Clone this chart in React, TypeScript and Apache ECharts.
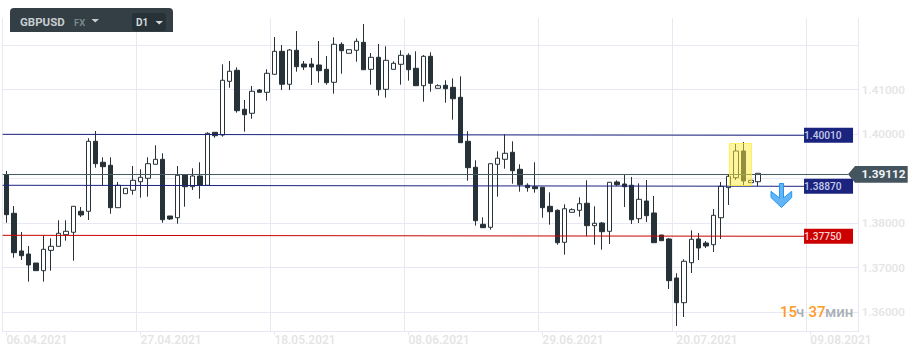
import React, { useEffect, useRef } from "react";
import * as echarts from "echarts";

const symbolName = "GBPUSD";
const dateTicks = ["06.04.2021", "27.04.2021", "18.05.2021", "08.06.2021", "29.06.2021", "20.07.2021", "09.08.2021"];
const priceTicks = ["1.41000", "1.40000", "1.38000", "1.37000", "1.36000"];
const ticksEvery = 18;
const categoryCount = 115;
const priceMin = 1.35573;
const priceMax = 1.42606;

const opens = [
  1.39089, 1.38222, 1.37376, 1.37308, 1.37106, 1.36934, 1.37391, 1.37481, 1.37742, 1.37796, 1.38267, 1.38267,
  1.39838, 1.39367, 1.39300, 1.38348, 1.38662, 1.38738, 1.38931, 1.39008, 1.39322, 1.39434, 1.38161, 1.38123,
  1.39082, 1.38819, 1.39059, 1.38851, 1.40040, 1.39980, 1.41185, 1.41432, 1.40557, 1.40467, 1.40990, 1.40938,
  1.41342, 1.41858, 1.41118, 1.41881, 1.41573, 1.41573, 1.41551, 1.41454, 1.41163, 1.42016, 1.41814, 1.41881,
  1.42060, 1.41454, 1.41724, 1.41005, 1.41454, 1.41567, 1.41769, 1.41477, 1.41086, 1.41746, 1.41028, 1.41095,
  1.41050, 1.40826, 1.39838, 1.39255, 1.37975, 1.37908, 1.39322, 1.39434, 1.39591, 1.39210, 1.38851, 1.38819,
  1.38806, 1.38379, 1.38289, 1.37571, 1.38244, 1.38289, 1.38447, 1.37944, 1.38004, 1.37818, 1.38925, 1.38880,
  1.38851, 1.38101, 1.38498, 1.38229, 1.37735, 1.37645, 1.36770, 1.36215, 1.37113, 1.37645, 1.37555, 1.37517,
  1.38123, 1.38797, 1.39021, 1.39621, 1.38909, 1.38931,
];
const closes = [
  1.38191, 1.37338, 1.37270, 1.37062, 1.36934, 1.37414, 1.37481, 1.37773, 1.37818, 1.38379, 1.38184, 1.39838,
  1.39335, 1.39268, 1.38348, 1.38851, 1.38783, 1.38963, 1.39030, 1.39335, 1.39434, 1.38078, 1.38094, 1.39075,
  1.38819, 1.39059, 1.38851, 1.40018, 1.39964, 1.41208, 1.41410, 1.40525, 1.40435, 1.40961, 1.40938, 1.41365,
  1.41858, 1.41118, 1.41888, 1.41513, 1.41506, 1.41506, 1.41423, 1.41154, 1.42016, 1.41872, 1.41894, 1.42083,
  1.41445, 1.41724, 1.40997, 1.41656, 1.41589, 1.41769, 1.41445, 1.41086, 1.41746, 1.41140, 1.41086, 1.41019,
  1.40794, 1.39807, 1.39246, 1.38056, 1.37899, 1.39335, 1.39457, 1.39569, 1.39178, 1.38864, 1.38797, 1.38774,
  1.38348, 1.38258, 1.37562, 1.38325, 1.38303, 1.38438, 1.37944, 1.37998, 1.37809, 1.38918, 1.38864, 1.38819,
  1.38078, 1.38536, 1.38168, 1.37562, 1.37607, 1.36709, 1.36215, 1.37145, 1.37638, 1.37443, 1.37488, 1.38177,
  1.38828, 1.39053, 1.39621, 1.38947, 1.38963, 1.39120,
];
const lows = [
  1.38011, 1.37225, 1.37174, 1.36687, 1.36934, 1.36687, 1.36934, 1.37481, 1.37607, 1.37158, 1.38139, 1.38072,
  1.39246, 1.38851, 1.38213, 1.38348, 1.38662, 1.38640, 1.38572, 1.38595, 1.39322, 1.38011, 1.38072, 1.37989,
  1.38370, 1.38745, 1.38550, 1.38851, 1.39919, 1.39942, 1.41041, 1.40480, 1.40054, 1.40346, 1.40938, 1.40750,
  1.41342, 1.40990, 1.40990, 1.41401, 1.41439, 1.41102, 1.41154, 1.41109, 1.40907, 1.41356, 1.41814, 1.41625,
  1.41445, 1.41109, 1.40862, 1.40817, 1.41454, 1.41109, 1.41199, 1.41086, 1.40727, 1.40952, 1.41028, 1.40705,
  1.40323, 1.39807, 1.38954, 1.37944, 1.37899, 1.37854, 1.38595, 1.39223, 1.38887, 1.38707, 1.38707, 1.38684,
  1.38123, 1.37966, 1.37517, 1.37293, 1.38244, 1.38146, 1.37706, 1.37517, 1.37405, 1.37533, 1.38835, 1.38363,
  1.37982, 1.38004, 1.38027, 1.37562, 1.37607, 1.36523, 1.35692, 1.35894, 1.36882, 1.37174, 1.37443, 1.37353,
  1.37645, 1.38408, 1.38970, 1.38857, 1.38909, 1.38835,
];
const highs = [
  1.39172, 1.38386, 1.37802, 1.37488, 1.37106, 1.37728, 1.37661, 1.38065, 1.38065, 1.38379, 1.38363, 1.39906,
  1.40069, 1.39479, 1.39479, 1.38925, 1.38783, 1.39284, 1.39210, 1.39479, 1.39748, 1.39569, 1.38161, 1.39284,
  1.39082, 1.39232, 1.39367, 1.40040, 1.40040, 1.41567, 1.41641, 1.41499, 1.40765, 1.41080, 1.41012, 1.41454,
  1.42179, 1.42000, 1.41910, 1.42314, 1.41641, 1.41708, 1.42090, 1.41753, 1.42173, 1.42060, 1.41894, 1.42150,
  1.42471, 1.41820, 1.42022, 1.41971, 1.41634, 1.41881, 1.41814, 1.41858, 1.41775, 1.41836, 1.41118, 1.41208,
  1.41252, 1.41297, 1.40063, 1.39412, 1.38132, 1.39335, 1.39614, 1.39995, 1.39838, 1.39322, 1.38895, 1.39367,
  1.38806, 1.38693, 1.38312, 1.38424, 1.38334, 1.38581, 1.38963, 1.38379, 1.38027, 1.38918, 1.38963, 1.39082,
  1.39037, 1.38895, 1.38970, 1.38610, 1.37735, 1.37668, 1.36875, 1.37189, 1.37840, 1.37780, 1.37600, 1.38319,
  1.38925, 1.39097, 1.39778, 1.39823, 1.38963, 1.39120,
];

const levelUpper = [1.39995, 1.39973];
const levelMiddle = [1.38851, 1.38828];
const levelLower = [1.37728, 1.37706];
const currentLine = [1.39093, 1.39093];
const levelSpan = [-0.5, 107.15];
const currentSpan = [-0.5, 113.1];
const levelLabels = ["1.40010", "1.38870", "1.37750"];
const currentLabel = "1.39112";

const FONT = "Roboto";
const DARK = "#263238";
const NAVY = "#1a237e";
const RED = "#cc0000";
const GRID = "#e8e8f4";
const TICK_TEXT = "#e4e4e4";

function levelSeries(values: number[], color: string, label: string, textColor: string) {
  return {
    type: "line",
    xAxisIndex: 1,
    yAxisIndex: 0,
    data: [[levelSpan[0], values[0]], [levelSpan[1], values[1]]],
    showSymbol: false,
    silent: true,
    z: 5,
    lineStyle: { color, width: 1 },
    endLabel: {
      show: true,
      formatter: label,
      distance: 0,
      color: textColor,
      fontFamily: FONT,
      fontSize: 10.2,
      fontWeight: 500,
      backgroundColor: color,
      width: 44,
      height: 15,
      lineHeight: 15,
      align: "left",
      padding: [0, 5, 0, 0],
      rich: {},
    },
  };
}

export default function App() {
  const ref = useRef<HTMLDivElement>(null);
  useEffect(() => {
    document.body.style.margin = "0";
    const chart = echarts.init(ref.current!, undefined, { renderer: "svg" });
    const categories = Array.from({ length: categoryCount }, (_, i) =>
      i % ticksEvery === 0 ? dateTicks[i / ticksEvery] ?? "" : String(i)
    );
    const onTick = (i: number) => i % ticksEvery === 0;
    chart.setOption({
      animation: false,
      backgroundColor: "#ffffff",
      grid: { left: 2.68, right: 61.26, top: 18, bottom: 25.7 },
      xAxis: [
        {
          type: "category",
          data: categories,
          axisLine: { show: true, lineStyle: { color: GRID } },
          axisTick: { show: true, alignWithLabel: true, interval: onTick, length: 4, lineStyle: { color: GRID } },
          axisLabel: {
            interval: onTick,
            align: "left",
            color: TICK_TEXT,
            fontFamily: FONT,
            fontSize: 12,
            fontWeight: 500,
            margin: 3,
            hideOverlap: false,
          },
          splitLine: { show: true, interval: onTick, lineStyle: { color: GRID } },
        },
        { type: "value", show: false, min: -0.5, max: categoryCount - 0.5, splitLine: { show: false } },
      ],
      yAxis: {
        type: "value",
        position: "right",
        min: priceMin,
        max: priceMax,
        splitNumber: 7,
        scale: true,
        axisLine: { show: false },
        axisTick: { show: false },
        splitLine: { show: true, showMinLine: false, showMaxLine: false, lineStyle: { color: GRID } },
        axisLabel: {
          showMinLabel: false,
          showMaxLabel: false,
          margin: 3,
          color: TICK_TEXT,
          fontFamily: FONT,
          fontSize: 11.7,
          fontWeight: 500,
          formatter: (v: number) => (priceTicks.includes(v.toFixed(5)) ? v.toFixed(5) : ""),
        },
      },
      series: [
        {
          type: "candlestick",
          xAxisIndex: 0,
          yAxisIndex: 0,
          barWidth: 5,
          silent: true,
          z: 3,
          itemStyle: { color: "#ffffff", color0: DARK, borderColor: DARK, borderColor0: DARK, borderWidth: 1 },
          data: opens.map((o, i) => [o, closes[i], lows[i], highs[i]]),
        },
        levelSeries(levelUpper, NAVY, levelLabels[0], "#c5cae9"),
        levelSeries(levelMiddle, NAVY, levelLabels[1], "#c5cae9"),
        levelSeries(levelLower, RED, levelLabels[2], "#f7d0d0"),
        {
          type: "line",
          xAxisIndex: 1,
          yAxisIndex: 0,
          data: [[currentSpan[0], currentLine[0]], [currentSpan[1], currentLine[1]]],
          showSymbol: false,
          silent: true,
          z: 4,
          lineStyle: { color: "#455a64", width: 1 },
        },
      ],
      graphic: [
        { type: "rect", z: 20, shape: { x: 10, y: 8, width: 163, height: 24, r: [4, 4, 0, 0] }, style: { fill: "#333f44" } },
        { type: "text", z: 21, x: 20, y: 16, style: { text: symbolName, fill: "#c8cdd0", font: `700 11.5px ${FONT}` } },
        { type: "text", z: 21, x: 74, y: 17.5, style: { text: "FX", fill: "#78878d", font: `700 9.5px ${FONT}` } },
        { type: "polygon", z: 21, shape: { points: [[91.5, 19], [99, 19], [95.2, 22.5]] }, style: { fill: "#c8cdd0" } },
        { type: "rect", z: 21, shape: { x: 132, y: 13, width: 34, height: 18, r: 3 }, style: { fill: "#263238" } },
        { type: "text", z: 22, x: 136, y: 17, style: { text: "D1", fill: "#d5d9db", font: `700 10px ${FONT}` } },
        { type: "polygon", z: 22, shape: { points: [[155.5, 21], [163, 21], [159.2, 24.5]] }, style: { fill: "#d5d9db" } },

        { type: "rect", z: 30, shape: { x: 729.5, y: 143.5, width: 22, height: 42 }, style: { fill: "rgba(255,235,59,0.5)", stroke: "rgba(255,235,59,0.75)", lineWidth: 1 } },

        {
          type: "polygon", z: 30,
          shape: { points: [[779.5, 183.5], [783.5, 183.5], [783.5, 198], [791.7, 191.3], [791.7, 197.5], [781.5, 207.5], [771, 197.5], [771, 191.3], [779.5, 198]] },
          style: { fill: "#64b5f6", stroke: "#2196f3", lineWidth: 1 },
        },

        { type: "polygon", z: 30, shape: { points: [[848, 174.3], [855, 166], [907.7, 166], [907.7, 182.7], [855, 182.7]] }, style: { fill: "#455560" } },
        { type: "text", z: 31, x: 861.5, y: 168, style: { text: currentLabel, fill: "#f2f4f5", font: `700 11.8px ${FONT}` } },

        { type: "text", z: 30, x: 780, y: 304.5, style: { text: "15", fill: "#ff9a26", font: `500 15px ${FONT}` } },
        { type: "text", z: 30, x: 796, y: 304.5, style: { text: "ч", fill: "#a8b0b6", font: `500 15px ${FONT}` } },
        { type: "text", z: 30, x: 808.5, y: 304.5, style: { text: "37", fill: "#ff9a26", font: `500 15px ${FONT}` } },
        { type: "text", z: 30, x: 825, y: 304.5, style: { text: "мин", fill: "#a8b0b6", font: `500 15px ${FONT}` } },
      ],
    });
    return () => chart.dispose();
  }, []);
  return <div ref={ref} style={{ position: "absolute", left: 0, top: 0, width: 920, height: 357 }} />;
}
